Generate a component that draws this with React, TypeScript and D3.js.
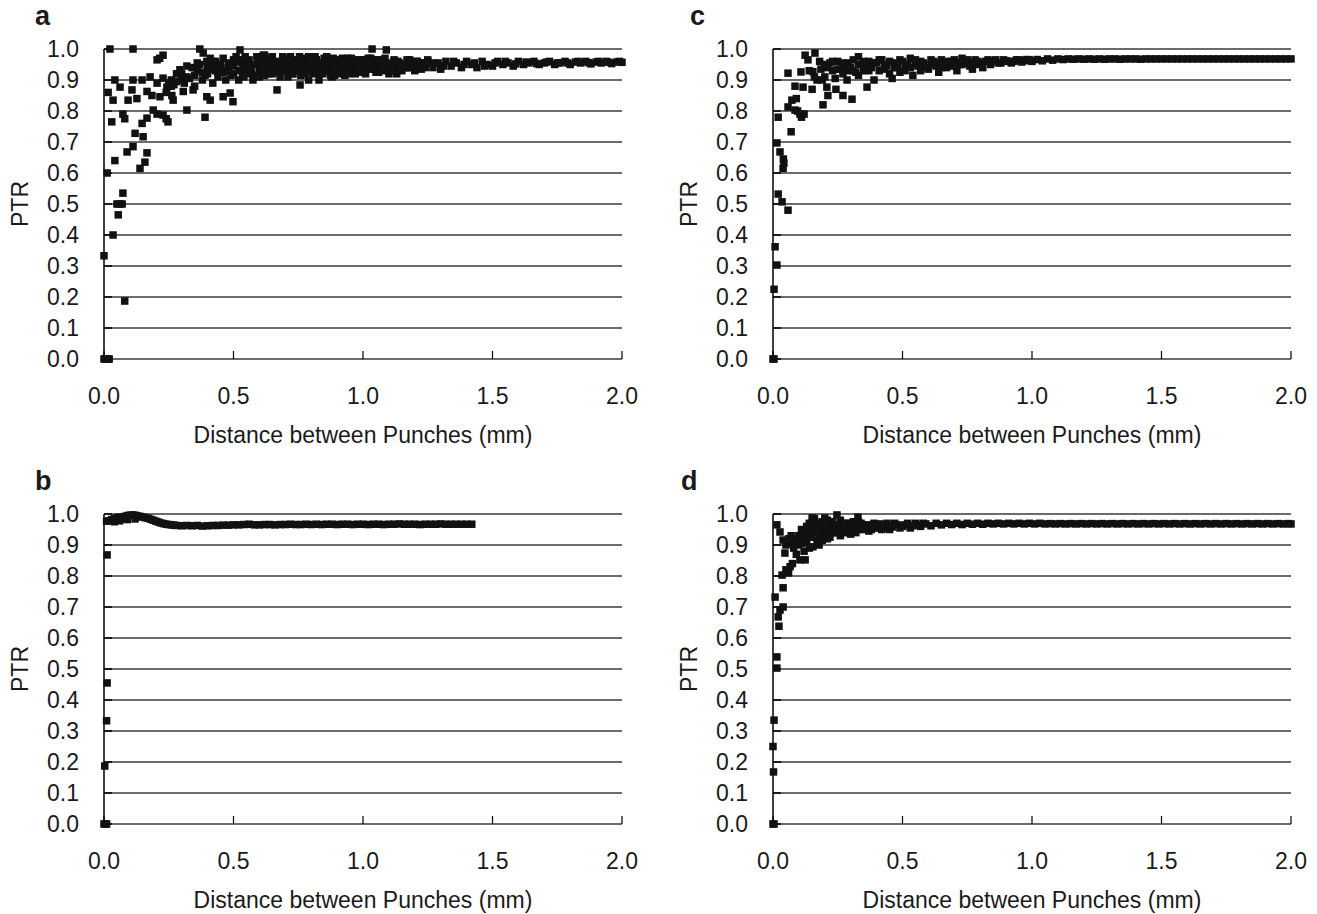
import React from 'react';
import * as d3 from 'd3';

// PTR vs distance between punches, four panels (a-d)
const yTicks = [0, 0.1, 0.2, 0.3, 0.4, 0.5, 0.6, 0.7, 0.8, 0.9, 1.0];
const xTicks = [0, 0.5, 1.0, 1.5, 2.0];
const xTitle = 'Distance between Punches (mm)';
const yTitle = 'PTR';

const aPts: [number, number][] = [
  [0.0, 0.0], [0.005, 0.0], [0.01, 0.0], [0.015, 0.0], [0.02, 0.0],
  [0.0, 0.333], [0.035, 0.4], [0.08, 0.187], [0.055, 0.465], [0.05, 0.5], [0.06, 0.5], [0.07, 0.5], [0.073, 0.535],
  [0.012, 0.6], [0.042, 0.64], [0.03, 0.765], [0.016, 0.86], [0.035, 0.835], [0.042, 0.9], [0.023, 1.0], [0.112, 1.0],
  [0.062, 0.877], [0.073, 0.79], [0.08, 0.775], [0.093, 0.835], [0.108, 0.868], [0.112, 0.9], [0.127, 0.84],
  [0.089, 0.668], [0.112, 0.685], [0.12, 0.728], [0.151, 0.717], [0.147, 0.76], [0.139, 0.615], [0.158, 0.635], [0.166, 0.665],
  [0.166, 0.777], [0.19, 0.803], [0.205, 0.79], [0.228, 0.787], [0.247, 0.765], [0.24, 0.775],
  [0.166, 0.863], [0.185, 0.85], [0.216, 0.846], [0.228, 0.906], [0.205, 0.965], [0.228, 0.98], [0.215, 0.97],
  [0.147, 0.9], [0.178, 0.91], [0.205, 0.89], [0.243, 0.877], [0.25, 0.89], [0.26, 0.9], [0.27, 0.885], [0.28, 0.895],
  [0.267, 0.835], [0.262, 0.85], [0.32, 0.803], [0.306, 0.863], [0.344, 0.868], [0.293, 0.933], [0.32, 0.945], [0.3, 0.9], [0.31, 0.89], [0.33, 0.905],
  [0.39, 0.78], [0.397, 0.846], [0.41, 0.835], [0.37, 1.0], [0.383, 0.987], [0.36, 0.93], [0.37, 0.95], [0.397, 0.96], [0.43, 0.93], [0.35, 0.915], [0.38, 0.9], [0.42, 0.89], [0.44, 0.91], [0.45, 0.94],
  [0.46, 0.846], [0.487, 0.858], [0.498, 0.83], [0.47, 0.9], [0.49, 0.95], [0.5, 0.92], [0.51, 0.96], [0.525, 0.997], [0.52, 0.9], [0.54, 0.94],
  [0.55, 0.955], [0.56, 0.92], [0.575, 0.9], [0.58, 0.95], [0.6, 0.97], [0.615, 0.98], [0.62, 0.98], [0.6, 0.91], [0.63, 0.935], [0.64, 0.95],
  [0.65, 0.92], [0.668, 0.868], [0.67, 0.96], [0.69, 0.975], [0.7, 0.94], [0.71, 0.91], [0.72, 0.955], [0.74, 0.965], [0.757, 0.884], [0.76, 0.935],
  [0.77, 0.95], [0.78, 0.97], [0.79, 0.9], [0.8, 0.96], [0.81, 0.92], [0.82, 0.945], [0.83, 0.9], [0.85, 0.97], [0.86, 0.93], [0.87, 0.955],
  [0.88, 0.91], [0.9, 0.96], [0.91, 0.94], [0.92, 0.97], [0.93, 0.915], [0.95, 0.95], [0.96, 0.93], [0.97, 0.965], [0.99, 0.94], [1.0, 0.955],
  [1.01, 0.92], [1.035, 1.0], [1.03, 0.97], [1.05, 0.945], [1.06, 0.925], [1.07, 0.96], [1.09, 0.997], [1.09, 0.95], [1.1, 0.935], [1.12, 0.96],
  [1.13, 0.92], [1.15, 0.95], [1.17, 0.94], [1.18, 0.965], [1.2, 0.93], [1.22, 0.955], [1.24, 0.945], [1.25, 0.965], [1.27, 0.94], [1.29, 0.955],
  [1.3, 0.935], [1.32, 0.96], [1.34, 0.945], [1.36, 0.955], [1.38, 0.94], [1.4, 0.96], [1.42, 0.95], [1.44, 0.94], [1.46, 0.96], [1.48, 0.95],
  [1.5, 0.945], [1.52, 0.96], [1.54, 0.95], [1.56, 0.955], [1.58, 0.945], [1.6, 0.96], [1.62, 0.95], [1.64, 0.955], [1.66, 0.96], [1.68, 0.95],
  [1.7, 0.955], [1.72, 0.96], [1.74, 0.95], [1.76, 0.955], [1.78, 0.96], [1.8, 0.95], [1.82, 0.958], [1.84, 0.955], [1.86, 0.96], [1.88, 0.952],
  [1.9, 0.958], [1.92, 0.955], [1.94, 0.96], [1.96, 0.953], [1.98, 0.958], [2.0, 0.957],
  [0.40, 0.92], [0.41, 0.95], [0.42, 0.935], [0.43, 0.96], [0.44, 0.925], [0.45, 0.95], [0.46, 0.97], [0.47, 0.93], [0.48, 0.955], [0.49, 0.915],
  [0.50, 0.945], [0.51, 0.975], [0.52, 0.93], [0.53, 0.955], [0.54, 0.91], [0.55, 0.94], [0.56, 0.965], [0.57, 0.925], [0.58, 0.95], [0.59, 0.975],
  [0.60, 0.93], [0.61, 0.955], [0.62, 0.915], [0.63, 0.96], [0.64, 0.94], [0.65, 0.975], [0.66, 0.925], [0.67, 0.945], [0.68, 0.91], [0.69, 0.96],
  [0.70, 0.93], [0.71, 0.955], [0.72, 0.975], [0.73, 0.92], [0.74, 0.945], [0.75, 0.96], [0.76, 0.915], [0.77, 0.935], [0.78, 0.955], [0.79, 0.975],
  [0.80, 0.925], [0.81, 0.95], [0.82, 0.965], [0.83, 0.92], [0.84, 0.94], [0.85, 0.955], [0.86, 0.975], [0.87, 0.93], [0.88, 0.95], [0.89, 0.915],
  [0.90, 0.94], [0.91, 0.965], [0.92, 0.925], [0.93, 0.95], [0.94, 0.97], [0.95, 0.935], [0.96, 0.955], [0.97, 0.92], [0.98, 0.945], [0.99, 0.965],
  [1.00, 0.93], [1.01, 0.95], [1.02, 0.97], [1.03, 0.935], [1.04, 0.955], [1.05, 0.925], [1.06, 0.945], [1.07, 0.965], [1.08, 0.935], [1.09, 0.955],
  [1.10, 0.92], [1.11, 0.945], [1.12, 0.965], [1.13, 0.94], [1.14, 0.955], [1.15, 0.93], [1.16, 0.95], [1.17, 0.965], [1.18, 0.94], [1.19, 0.955],
  [1.20, 0.935], [1.21, 0.96], [1.22, 0.945], [1.23, 0.955], [1.24, 0.94], [1.25, 0.96],
  [1.27, 0.955], [1.31, 0.945], [1.35, 0.96], [1.39, 0.95], [1.43, 0.955], [1.47, 0.945], [1.51, 0.955], [1.55, 0.96], [1.59, 0.952], [1.63, 0.958],
  [1.67, 0.953], [1.71, 0.958], [1.75, 0.955], [1.79, 0.955], [1.83, 0.96], [1.87, 0.956], [1.91, 0.96], [1.95, 0.957], [1.99, 0.96],
  [0.52, 0.965], [0.535, 0.92], [0.545, 0.975], [0.565, 0.945], [0.585, 0.915], [0.595, 0.96], [0.605, 0.94], [0.625, 0.97], [0.635, 0.92], [0.645, 0.96],
  [0.655, 0.945], [0.675, 0.925], [0.685, 0.95], [0.695, 0.935], [0.705, 0.97], [0.715, 0.94], [0.725, 0.92], [0.735, 0.96], [0.745, 0.93], [0.755, 0.975],
  [0.765, 0.95], [0.775, 0.92], [0.785, 0.94], [0.795, 0.96], [0.805, 0.94], [0.815, 0.975], [0.825, 0.93], [0.835, 0.955], [0.845, 0.92], [0.855, 0.945],
  [0.865, 0.96], [0.875, 0.915], [0.885, 0.97], [0.895, 0.935], [0.905, 0.92], [0.915, 0.95], [0.925, 0.96], [0.935, 0.935], [0.945, 0.92], [0.955, 0.97],
  [0.965, 0.945], [0.975, 0.935], [0.985, 0.955], [0.995, 0.925], [1.005, 0.965], [1.015, 0.935], [1.025, 0.955], [1.045, 0.935], [1.055, 0.965], [1.065, 0.94],
  [1.075, 0.93], [1.085, 0.97], [1.105, 0.95], [1.115, 0.93], [1.125, 0.945], [1.135, 0.96], [1.145, 0.935], [1.165, 0.94], [1.185, 0.95], [1.205, 0.96],
  [1.225, 0.935], [1.245, 0.955],
  [0.30, 0.92], [0.32, 0.91], [0.34, 0.94], [0.36, 0.955], [0.38, 0.925], [0.40, 0.94], [0.42, 0.96], [0.44, 0.945], [0.46, 0.925], [0.48, 0.94],
  [0.5, 0.965], [0.39, 0.915], [0.41, 0.97], [0.35, 0.88], [0.28, 0.92], [0.26, 0.88], [0.24, 0.86],
];

const bPts: [number, number][] = [
  [0.0, 0.0], [0.005, 0.0], [0.01, 0.0], [0.003, 0.187], [0.01, 0.333], [0.012, 0.455], [0.012, 0.868], [0.01, 0.977],
  [0.02, 0.978], [0.03, 0.982], [0.04, 0.985], [0.05, 0.988], [0.06, 0.99], [0.07, 0.984], [0.08, 0.992], [0.09, 0.995],
  [0.10, 0.996], [0.11, 0.997], [0.12, 0.996], [0.13, 0.994], [0.14, 0.992], [0.15, 0.99], [0.16, 0.988], [0.17, 0.986],
  [0.18, 0.983], [0.19, 0.98], [0.20, 0.977], [0.21, 0.974], [0.22, 0.971], [0.23, 0.969], [0.24, 0.967], [0.25, 0.966],
  [0.26, 0.965], [0.27, 0.964], [0.28, 0.963], [0.30, 0.962], [0.32, 0.963], [0.34, 0.962], [0.36, 0.963], [0.38, 0.961],
  [0.40, 0.962], [0.42, 0.963], [0.44, 0.963], [0.46, 0.964], [0.48, 0.964], [0.50, 0.965], [0.52, 0.965], [0.54, 0.966],
  [0.56, 0.967], [0.58, 0.965], [0.60, 0.965], [0.62, 0.966], [0.64, 0.966], [0.66, 0.965], [0.68, 0.966], [0.70, 0.966],
  [0.72, 0.967], [0.74, 0.966], [0.76, 0.966], [0.78, 0.967], [0.80, 0.966], [0.82, 0.967], [0.84, 0.966], [0.86, 0.967],
  [0.88, 0.967], [0.90, 0.966], [0.92, 0.967], [0.94, 0.967], [0.96, 0.966], [0.98, 0.967], [1.00, 0.967], [1.02, 0.966],
  [1.04, 0.967], [1.06, 0.967], [1.08, 0.966], [1.10, 0.967], [1.12, 0.967], [1.14, 0.968], [1.16, 0.967], [1.18, 0.967],
  [1.20, 0.967], [1.22, 0.966], [1.24, 0.967], [1.26, 0.967], [1.28, 0.967], [1.30, 0.968], [1.32, 0.967], [1.34, 0.967],
  [1.36, 0.967], [1.38, 0.967], [1.40, 0.967], [1.42, 0.967],
  [0.06, 0.978], [0.09, 0.982], [0.12, 0.984], [0.04, 0.975],
];

const cPts: [number, number][] = [
  [0.0, 0.0], [0.004, 0.0], [0.004, 0.225], [0.015, 0.303], [0.008, 0.362], [0.058, 0.48], [0.035, 0.507], [0.02, 0.532],
  [0.039, 0.615], [0.042, 0.632], [0.04, 0.645], [0.027, 0.668], [0.015, 0.697], [0.07, 0.733], [0.02, 0.78],
  [0.058, 0.813], [0.073, 0.835], [0.09, 0.84], [0.085, 0.803], [0.104, 0.79], [0.11, 0.78], [0.12, 0.79], [0.095, 0.8],
  [0.058, 0.922], [0.108, 0.926], [0.085, 0.88], [0.116, 0.877], [0.151, 0.87], [0.124, 0.98], [0.162, 0.987], [0.135, 0.965],
  [0.154, 0.927], [0.185, 0.935], [0.19, 0.9], [0.208, 0.877], [0.193, 0.82], [0.212, 0.85], [0.243, 0.87], [0.27, 0.85], [0.305, 0.838],
  [0.22, 0.955], [0.23, 0.93], [0.25, 0.96], [0.26, 0.935], [0.29, 0.955], [0.31, 0.965], [0.33, 0.975], [0.363, 0.877],
  [0.286, 0.9], [0.33, 0.915], [0.39, 0.9], [0.17, 0.9], [0.2, 0.91], [0.24, 0.905], [0.27, 0.92], [0.21, 0.94], [0.28, 0.94],
  [0.3, 0.94], [0.32, 0.925], [0.34, 0.95], [0.35, 0.93], [0.37, 0.96], [0.38, 0.94], [0.4, 0.955], [0.41, 0.93],
  [0.42, 0.965], [0.44, 0.945], [0.45, 0.92], [0.46, 0.905], [0.47, 0.955], [0.48, 0.94], [0.5, 0.96], [0.51, 0.93],
  [0.52, 0.95], [0.54, 0.915], [0.55, 0.965], [0.56, 0.945], [0.58, 0.955], [0.6, 0.935], [0.62, 0.96], [0.63, 0.945],
  [0.65, 0.965], [0.67, 0.94], [0.68, 0.955], [0.7, 0.965], [0.72, 0.95], [0.74, 0.96], [0.76, 0.945], [0.78, 0.965],
  [0.8, 0.955], [0.82, 0.96], [0.84, 0.95], [0.86, 0.965], [0.88, 0.955], [0.9, 0.962], [0.92, 0.955], [0.94, 0.965],
  [0.96, 0.958], [0.98, 0.966], [1.0, 0.96], [1.02, 0.966], [1.04, 0.962], [1.06, 0.968], [1.08, 0.964], [1.10, 0.968],
  [1.12, 0.966], [1.14, 0.968], [1.16, 0.967], [1.18, 0.968], [1.20, 0.967], [1.22, 0.968], [1.24, 0.967], [1.26, 0.968],
  [1.28, 0.967], [1.30, 0.968], [1.32, 0.968], [1.34, 0.967], [1.36, 0.968], [1.38, 0.968], [1.40, 0.968], [1.42, 0.967],
  [1.44, 0.968], [1.46, 0.968], [1.48, 0.968], [1.50, 0.968], [1.52, 0.968], [1.54, 0.968], [1.56, 0.968], [1.58, 0.968],
  [1.60, 0.968], [1.62, 0.968], [1.64, 0.968], [1.66, 0.968], [1.68, 0.968], [1.70, 0.968], [1.72, 0.968], [1.74, 0.968],
  [1.76, 0.968], [1.78, 0.968], [1.80, 0.968], [1.82, 0.968], [1.84, 0.968], [1.86, 0.968], [1.88, 0.968], [1.90, 0.968],
  [1.92, 0.968], [1.94, 0.968], [1.96, 0.968], [1.98, 0.968], [2.0, 0.968],
  [0.36, 0.945], [0.43, 0.95], [0.49, 0.925], [0.53, 0.97], [0.57, 0.93], [0.61, 0.95], [0.64, 0.925], [0.66, 0.955],
  [0.69, 0.945], [0.71, 0.93], [0.73, 0.97], [0.75, 0.955], [0.77, 0.935], [0.79, 0.95], [0.81, 0.94], [0.83, 0.965],
  [0.31, 0.93], [0.33, 0.95], [0.35, 0.96], [0.37, 0.93], [0.39, 0.955], [0.41, 0.965], [0.43, 0.935], [0.45, 0.96],
  [0.47, 0.94], [0.49, 0.965], [0.51, 0.95], [0.53, 0.94], [0.55, 0.95], [0.57, 0.96], [0.59, 0.94], [0.61, 0.965],
  [0.63, 0.955], [0.65, 0.94], [0.67, 0.96], [0.69, 0.96], [0.71, 0.955], [0.73, 0.95], [0.75, 0.965], [0.77, 0.955],
  [0.79, 0.96], [0.85, 0.96], [0.87, 0.955], [0.89, 0.965], [0.91, 0.96], [0.93, 0.96], [0.95, 0.965], [0.97, 0.962],
  [0.99, 0.965], [0.23, 0.96], [0.25, 0.935], [0.27, 0.955], [0.29, 0.93], [0.18, 0.96], [0.2, 0.95], [0.14, 0.93], [0.16, 0.91],
];

const dPts: [number, number][] = [
  [0.0, 0.0], [0.004, 0.0], [0.004, 0.335], [0.0, 0.25], [0.002, 0.168], [0.015, 0.503], [0.015, 0.539], [0.023, 0.638],
  [0.02, 0.668], [0.027, 0.69], [0.039, 0.7], [0.008, 0.732], [0.039, 0.762], [0.035, 0.803], [0.05, 0.82], [0.066, 0.83],
  [0.06, 0.81], [0.075, 0.84], [0.046, 0.874], [0.039, 0.916], [0.015, 0.965], [0.027, 0.942], [0.05, 0.9], [0.06, 0.92],
  [0.07, 0.905], [0.08, 0.89], [0.09, 0.915], [0.104, 0.852], [0.124, 0.852], [0.1, 0.93], [0.11, 0.95], [0.12, 0.92],
  [0.13, 0.96], [0.14, 0.935], [0.15, 0.97], [0.151, 0.987], [0.16, 0.94], [0.154, 0.894], [0.178, 0.9], [0.17, 0.96],
  [0.18, 0.93], [0.19, 0.975], [0.2, 0.987], [0.2, 0.945], [0.21, 0.92], [0.22, 0.96], [0.23, 0.94], [0.247, 0.997],
  [0.25, 0.955], [0.26, 0.93], [0.27, 0.97], [0.28, 0.945], [0.29, 0.96], [0.3, 0.935], [0.31, 0.975], [0.328, 0.99],
  [0.33, 0.95], [0.35, 0.965], [0.37, 0.945], [0.39, 0.97], [0.41, 0.955], [0.43, 0.965], [0.45, 0.95], [0.47, 0.97],
  [0.49, 0.955], [0.51, 0.965], [0.53, 0.955], [0.55, 0.97], [0.57, 0.96], [0.59, 0.968], [0.61, 0.962], [0.63, 0.97],
  [0.09, 0.87], [0.11, 0.905], [0.13, 0.91], [0.14, 0.97], [0.16, 0.985], [0.17, 0.915], [0.18, 0.97], [0.19, 0.935],
  [0.21, 0.96], [0.22, 0.925], [0.23, 0.975], [0.24, 0.94], [0.26, 0.965], [0.27, 0.94], [0.28, 0.97], [0.3, 0.955],
  [0.32, 0.94], [0.34, 0.97], [0.36, 0.955], [0.38, 0.95], [0.4, 0.965], [0.42, 0.95], [0.44, 0.97], [0.46, 0.958],
  [0.65, 0.965], [0.67, 0.97], [0.69, 0.966], [0.71, 0.97], [0.73, 0.966], [0.75, 0.97], [0.77, 0.967], [0.79, 0.97],
  [0.81, 0.967], [0.83, 0.97], [0.85, 0.968], [0.87, 0.97], [0.89, 0.968], [0.91, 0.97], [0.93, 0.968], [0.95, 0.97],
  [0.97, 0.968], [0.99, 0.97], [1.01, 0.968], [1.03, 0.97], [1.05, 0.968], [1.07, 0.969], [1.09, 0.968], [1.11, 0.969],
  [1.13, 0.968], [1.15, 0.969], [1.17, 0.968], [1.19, 0.969], [1.21, 0.968], [1.23, 0.969], [1.25, 0.968], [1.27, 0.969],
  [1.29, 0.968], [1.31, 0.969], [1.33, 0.968], [1.35, 0.969], [1.37, 0.968], [1.39, 0.969], [1.41, 0.968], [1.43, 0.969],
  [1.45, 0.968], [1.47, 0.969], [1.49, 0.968], [1.51, 0.969], [1.53, 0.968], [1.55, 0.969], [1.57, 0.968], [1.59, 0.969],
  [1.61, 0.968], [1.63, 0.969], [1.65, 0.968], [1.67, 0.969], [1.69, 0.968], [1.71, 0.969], [1.73, 0.968], [1.75, 0.969],
  [1.77, 0.968], [1.79, 0.969], [1.81, 0.968], [1.83, 0.969], [1.85, 0.968], [1.87, 0.969], [1.89, 0.968], [1.91, 0.969],
  [1.93, 0.968], [1.95, 0.969], [1.97, 0.968], [1.99, 0.969], [2.0, 0.968],
  [0.12, 0.94], [0.13, 0.925], [0.14, 0.955], [0.15, 0.925], [0.16, 0.96], [0.17, 0.94], [0.18, 0.95], [0.19, 0.915],
  [0.2, 0.965], [0.21, 0.98], [0.22, 0.945], [0.23, 0.955], [0.24, 0.965], [0.25, 0.94], [0.26, 0.98], [0.27, 0.955],
  [0.28, 0.96], [0.29, 0.94], [0.3, 0.97], [0.31, 0.95], [0.32, 0.965], [0.33, 0.975], [0.35, 0.95], [0.37, 0.965],
  [0.39, 0.955], [0.41, 0.968], [0.43, 0.955], [0.45, 0.965], [0.48, 0.965], [0.5, 0.96], [0.52, 0.97], [0.54, 0.962],
  [0.56, 0.965], [0.58, 0.97], [0.1, 0.9], [0.08, 0.92], [0.07, 0.93], [0.12, 0.88], [0.14, 0.89],
];

const FONT = '"Liberation Sans", Arial, sans-serif';
const W = 518;
const H = 310;
const MS = 7.5;

type PanelProps = { left: number; top: number; letter: string; letterX: number; pts: [number, number][] };

const Panel = ({ left, top, letter, letterX, pts }: PanelProps) => {
  const x = d3.scaleLinear().domain([0, 2]).range([left, left + W]);
  const y = d3.scaleLinear().domain([0, 1]).range([top + H, top]);
  const bottom = y(0);

  return (
    <g fontFamily={FONT} fill="#1a1a1a">
      <text x={letterX} y={top - 24} fontSize={27} fontWeight="bold">{letter}</text>

      {yTicks.map(t => (
        <g key={'y' + t}>
          <line x1={x(0)} x2={x(2)} y1={y(t)} y2={y(t)} stroke="#3a3a3a" strokeWidth={1.3} />
          <line x1={x(0)} x2={x(0) + 8} y1={y(t)} y2={y(t)} stroke="#000" strokeWidth={1.5} />
          <text x={left - 25} y={y(t)} dy="0.35em" textAnchor="end" fontSize={23}>{t.toFixed(1)}</text>
        </g>
      ))}

      {xTicks.map(t => (
        <g key={'x' + t}>
          <line x1={x(t)} x2={x(t)} y1={bottom} y2={bottom - 8} stroke="#000" strokeWidth={1.2} />
          <text x={x(t)} y={bottom + 45} textAnchor="middle" fontSize={23}>{t.toFixed(1)}</text>
        </g>
      ))}

      <line x1={x(0)} x2={x(0)} y1={top} y2={bottom} stroke="#000" strokeWidth={1.5} />

      {pts.map((p, i) => (
        <rect key={i} x={x(p[0]) - MS / 2} y={y(p[1]) - MS / 2} width={MS} height={MS} fill="#111" />
      ))}

      <text x={(x(0) + x(2)) / 2} y={bottom + 84} textAnchor="middle" fontSize={23}>{xTitle}</text>
      <text transform={`translate(${left - 76},${(top + bottom) / 2}) rotate(-90)`} textAnchor="middle" fontSize={23}>{yTitle}</text>
    </g>
  );
};

export default function App() {
  return (
    <svg width={1317} height={914} style={{ position: 'absolute', left: 0, top: 0, background: '#fff' }}>
      <Panel left={104} top={49} letter="a" letterX={35} pts={aPts} />
      <Panel left={104} top={514} letter="b" letterX={35} pts={bPts} />
      <Panel left={773} top={49} letter="c" letterX={690} pts={cPts} />
      <Panel left={773} top={514} letter="d" letterX={681} pts={dPts} />
    </svg>
  );
}
